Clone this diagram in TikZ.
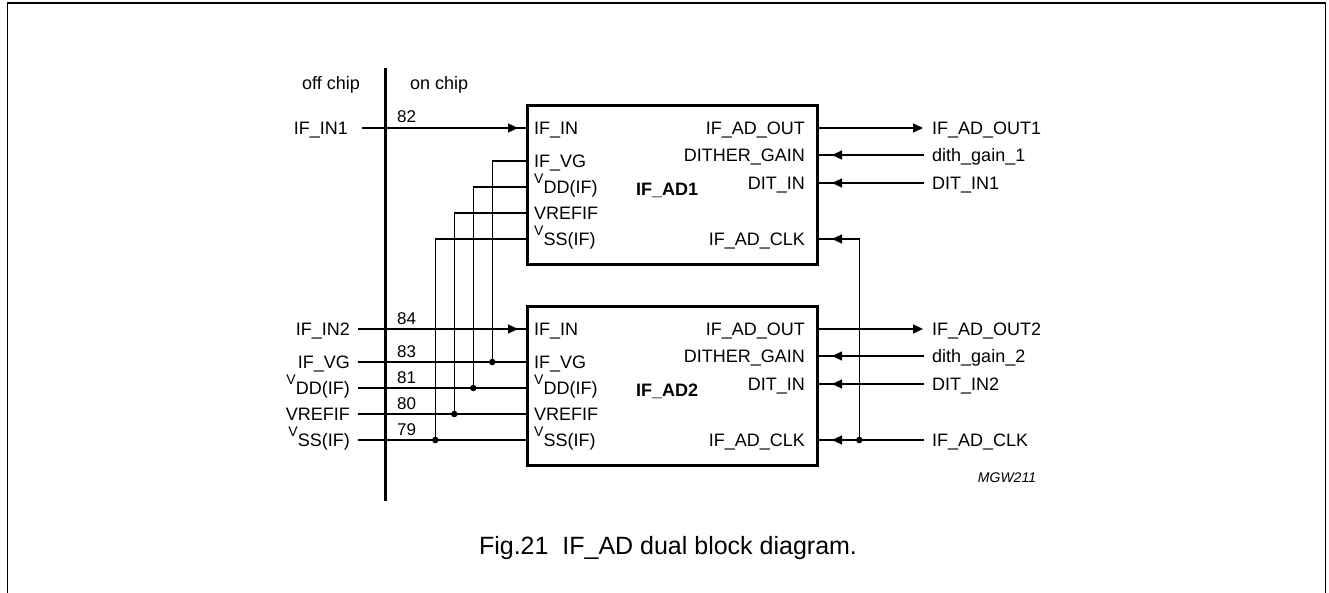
\documentclass[tikz,border=0pt]{standalone}
\usepackage{fontspec}
\setmainfont{Liberation Sans}
\usetikzlibrary{arrows.meta,calc}
\newcommand\VLab[1]{\raisebox{10pt}{\fontsize{14}{14}\selectfont V}#1}
\begin{document}
\begin{tikzpicture}[x=1pt,y=-1pt,
  lab/.style={font=\fontsize{18}{20}\selectfont, inner sep=0pt},
  num/.style={font=\fontsize{17}{19}\selectfont, inner sep=0pt, anchor=base west},
  wire/.style={line width=1.3pt},
  arr/.style={wire, -{Triangle[length=10pt,width=9pt]}},
  blk/.style={draw, line width=2.8pt, minimum width=290pt, minimum height=159pt, inner sep=0pt, anchor=north west},
  jdot/.style={circle, fill, inner sep=0pt, minimum size=6.5pt}]
\useasboundingbox (0,0) rectangle (1329,593);
% frame
\draw[line width=1.8pt] (7.5,593) -- (7.5,3) -- (1325.5,3) -- (1325.5,593);
% chip boundary
\coordinate (cbt) at (385.7,68);
\coordinate (cbb) at (385.7,501);
\draw[line width=2.8pt] (cbt) -- (cbb);
\node[lab, anchor=base west] (offc) at (302,90) {off chip};
\node[lab, anchor=base west] (onc) at (410,90) {on chip};
% blocks
\node[blk] (b1) at (526,104) {};
\node[blk] (b2) at (526,305) {};
\node[lab, font=\fontsize{18}{20}\selectfont\bfseries] (t1) at (667,190) {IF\_AD1};
\node[lab, font=\fontsize{18}{20}\selectfont\bfseries] (t2) at (667,391) {IF\_AD2};
\foreach \b/\o in {1/0,2/201}{
  \coordinate (pin\b) at (526,{128+\o});
  \coordinate (pvg\b) at (526,{161+\o});
  \coordinate (pvdd\b) at (526,{187+\o});
  \coordinate (pvref\b) at (526,{213+\o});
  \coordinate (pvss\b) at (526,{239+\o});
  \coordinate (pout\b) at (816,{128+\o});
  \coordinate (pdith\b) at (816,{155+\o});
  \coordinate (pdit\b) at (816,{183+\o});
  \coordinate (pclk\b) at (816,{239+\o});
  \node[lab,anchor=base west] (lin\b) at (534,{134.5+\o}) {IF\_IN};
  \node[lab,anchor=base west] (lvg\b) at (534,{167.5+\o}) {IF\_VG};
  \node[lab,anchor=base west] (lvdd\b) at (534,{193.5+\o}) {\VLab{DD(IF)}};
  \node[lab,anchor=base west] (lvref\b) at (534,{219.5+\o}) {VREFIF};
  \node[lab,anchor=base west] (lvss\b) at (534,{245.5+\o}) {\VLab{SS(IF)}};
  \node[lab,anchor=base east] (lout\b) at (805,{134.5+\o}) {IF\_AD\_OUT};
  \node[lab,anchor=base east] (ldith\b) at (805,{161.5+\o}) {DITHER\_GAIN};
  \node[lab,anchor=base east] (ldit\b) at (805,{189.5+\o}) {DIT\_IN};
  \node[lab,anchor=base east] (lclk\b) at (805,{245.5+\o}) {IF\_AD\_CLK};
  % outside right
  \node[lab,anchor=base west] (xout\b) at (932,{134.5+\o}) {IF\_AD\_OUT\b};
  \node[lab,anchor=base west] (xdith\b) at (932,{161.5+\o}) {dith\_gain\_\b};
  \node[lab,anchor=base west] (xdit\b) at (932,{189.5+\o}) {DIT\_IN\b};
  \coordinate (eout\b) at (923,{128+\o});
  \coordinate (edith\b) at (924,{155+\o});
  \coordinate (edit\b) at (924,{183+\o});
  \draw[arr] (pout\b) -- (eout\b);
  \draw[wire] (edith\b) -- (pdith\b);
  \draw[arr, shorten >=16pt] (edith\b) -- (pdith\b);
  \draw[wire] (edit\b) -- (pdit\b);
  \draw[arr, shorten >=16pt] (edit\b) -- (pdit\b);
}
% left inputs
\node[lab,anchor=base east] (xin1) at (348,134.5) {IF\_IN1};
\node[lab,anchor=base east] (xin2) at (350,335.5) {IF\_IN2};
\node[lab,anchor=base east] (xvg) at (350,368.5) {IF\_VG};
\node[lab,anchor=base east] (xvdd) at (350,394.5) {\VLab{DD(IF)}};
\node[lab,anchor=base east] (xvref) at (350,420.5) {VREFIF};
\node[lab,anchor=base east] (xvss) at (350,446.5) {\VLab{SS(IF)}};
\node[num] (n82) at (397,123) {82};
\node[num] (n84) at (397,324) {84};
\node[num] (n83) at (397,357) {83};
\node[num] (n81) at (397,383) {81};
\node[num] (n80) at (397,409) {80};
\node[num] (n79) at (397,435) {79};
\coordinate (sin1) at (362,128);
\coordinate (sin2) at (358,329);
\coordinate (svg) at (358,362);
\coordinate (svdd) at (358,388);
\coordinate (svref) at (358,414);
\coordinate (svss) at (358,440);
\draw[wire] (sin1) -- (pin1);
\draw[arr, shorten >=8pt] (sin1) -- (pin1);
\draw[wire] (sin2) -- (pin2);
\draw[arr, shorten >=8pt] (sin2) -- (pin2);
\node[jdot] (dvg) at (492.3,362) {};
\node[jdot] (dvdd) at (473.3,388) {};
\node[jdot] (dvref) at (454.3,414) {};
\node[jdot] (dvss) at (435.3,440) {};
\draw[wire] (svg) -- (pvg2);
\draw[wire] (svdd) -- (pvdd2);
\draw[wire] (svref) -- (pvref2);
\draw[wire] (svss) -- (pvss2);
\draw[wire] (pvg1) -| (dvg.center);
\draw[wire] (pvdd1) -| (dvdd.center);
\draw[wire] (pvref1) -| (dvref.center);
\draw[wire] (pvss1) -| (dvss.center);
% clock
\node[lab,anchor=base west] (xclk) at (932,446.5) {IF\_AD\_CLK};
\coordinate (eclk) at (924,440);
\node[jdot] (dclk) at (859.3,440) {};
\draw[wire] (eclk) -- (pclk2);
\draw[arr, shorten >=16pt] (eclk) -- (pclk2);
\draw[wire] (dclk.center) |- (pclk1);
\draw[arr, shorten >=16pt] (dclk.center) |- (pclk1);
% labels
\node[inner sep=0pt, font=\fontsize{14}{16}\selectfont\itshape] (mgw) at (1007,478) {MGW211};
\node[inner sep=0pt, font=\fontsize{25}{28}\selectfont] (cap) at (668,548) {Fig.21\ \ IF\_AD dual block diagram.};
\end{tikzpicture}
\end{document}
